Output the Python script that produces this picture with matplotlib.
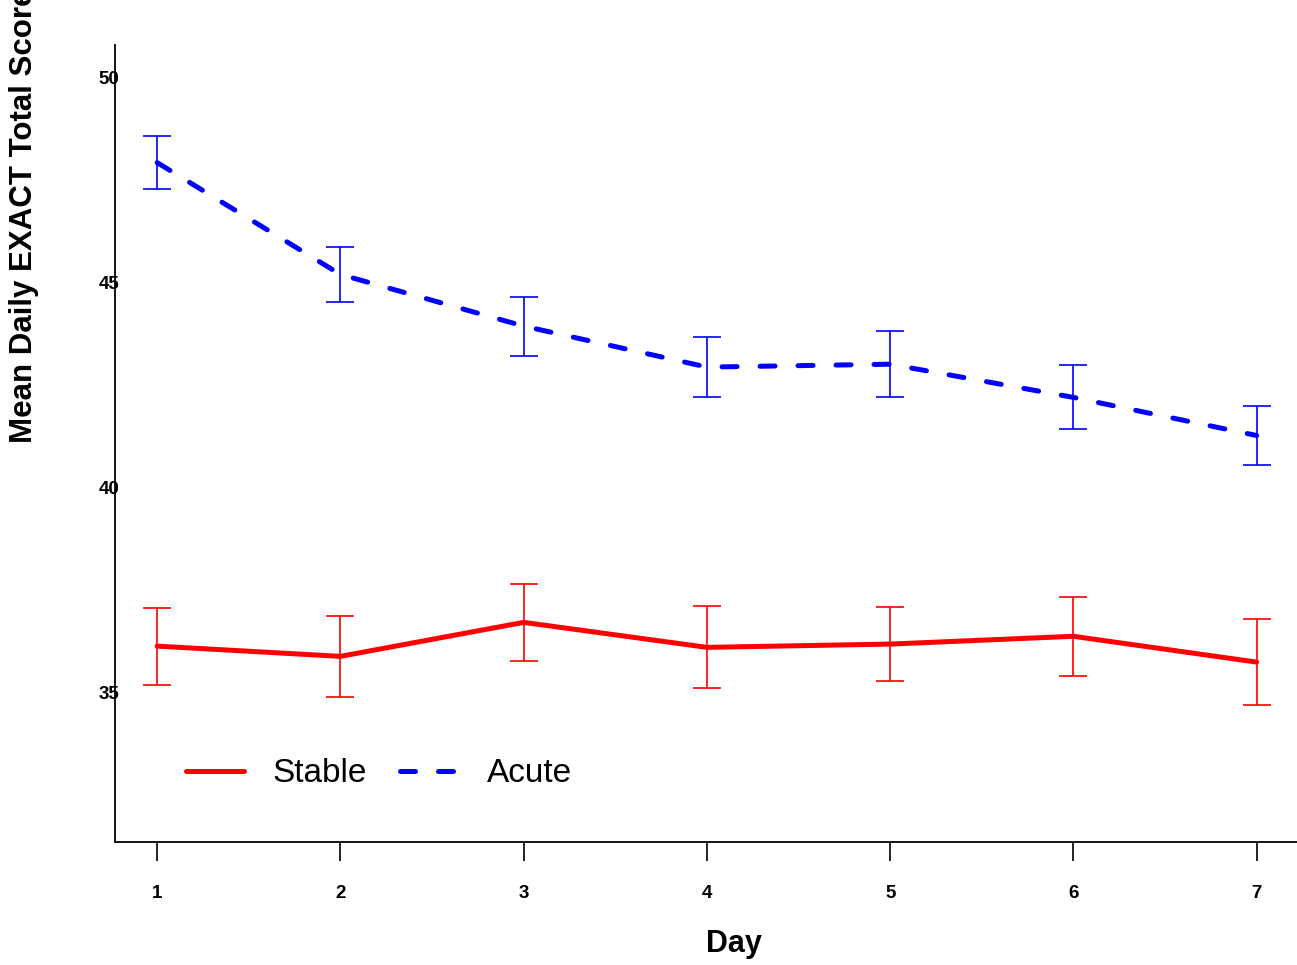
import matplotlib
matplotlib.use("Agg")
import matplotlib.pyplot as plt

days = [1, 2, 3, 4, 5, 6, 7]
day_labels = ["1", "2", "3", "4", "5", "6", "7"]
stable_mean = [36.13, 35.88, 36.71, 36.10, 36.18, 36.37, 35.74]
stable_err = [0.94, 0.99, 0.94, 1.00, 0.90, 0.97, 1.04]
acute_mean = [47.93, 45.20, 43.94, 42.94, 43.01, 42.20, 41.27]
acute_err = [0.64, 0.67, 0.72, 0.73, 0.80, 0.78, 0.73]
yticks = [35, 40, 45, 50]

plt.rcParams['font.family'] = ['Liberation Sans', 'DejaVu Sans']

fig = plt.figure(figsize=(12.97, 9.65), dpi=100)
ax = fig.add_axes([115/1297, 1-842/965, 1-115/1297, (842-45)/965])

ax.errorbar(days, stable_mean, yerr=stable_err, fmt='none', ecolor='#ff0000',
            elinewidth=1.2, capsize=10, capthick=1.2)
ax.errorbar(days, acute_mean, yerr=acute_err, fmt='none', ecolor='#0000ff',
            elinewidth=1.2, capsize=10, capthick=1.2)
ax.plot(days, stable_mean, color='#ff0000', lw=3.6, solid_capstyle='round', label='Stable')
ln, = ax.plot(days, acute_mean, color='#0000ff', lw=3.6, dash_capstyle='round', label='Acute')
ln.set_dashes((3.0, 4.6))

ax.set_xlim(0.77, 7.22)
ax.set_ylim(31.35, 50.8)
ax.set_xticks(days)
ax.set_xticklabels(day_labels, fontweight='bold', fontsize=13.5)
ax.set_yticks(yticks)
ax.set_yticklabels([str(v) for v in yticks], fontweight='bold', fontsize=13.5)
ax.tick_params(axis='x', direction='out', length=14, width=1.2, pad=17)
ax.tick_params(axis='y', length=0, pad=-3)
for s in ['top', 'right']:
    ax.spines[s].set_visible(False)
for s in ['left', 'bottom']:
    ax.spines[s].set_linewidth(1.3)

ax.set_xlabel('Day', fontweight='bold', fontsize=22, labelpad=16)
ax.xaxis.set_label_coords((734-115)/1182, -(944-842)/797)
ax.xaxis.label.set_va('center')
fig.text(24/1297, 1-443/965, 'Mean Daily EXACT Total Score', rotation=90,
         fontweight='bold', fontsize=22.5, ha='center', va='bottom')

leg = ax.legend(loc='center left', bbox_to_anchor=((186-115)/1182, (842-774)/797), ncol=2,
                frameon=False, fontsize=24, handlelength=1.75, columnspacing=1.0,
                handletextpad=0.85, borderaxespad=0, borderpad=0)

fig.savefig('out.png', dpi=100)
